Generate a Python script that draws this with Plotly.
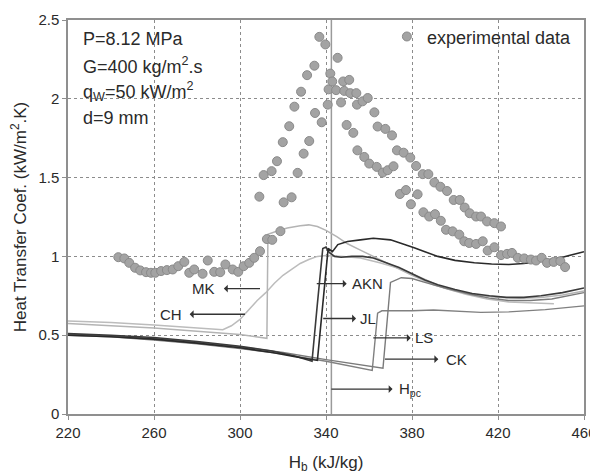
import plotly.graph_objects as go

# ---------------- data ----------------
exp_h = [243.4, 246.2, 248.5, 251.2, 253.6, 256.3, 258.6, 260.6, 263.3, 266.0, 268.7, 271.3, 274.1,
         276.4, 278.7, 282.6, 285.0, 288.0, 290.8, 293.2, 296.6, 299.2, 301.7, 304.3, 306.6, 309.3,
         312.5, 315.0, 318.8,
         309.0, 311.0, 314.7, 317.2, 319.9, 320.3, 322.9, 324.0, 325.3, 326.8, 328.4, 329.6, 331.2,
         332.2, 334.6, 334.9, 336.9, 338.0, 339.7, 340.8, 341.2, 342.0, 342.9, 344.7, 345.4, 347.0,
         348.0, 348.5, 349.6, 350.8, 351.3, 352.7, 354.1, 354.4, 354.6, 357.0, 357.8, 359.4, 360.1,
         362.5, 363.6, 364.0, 366.4, 367.6, 368.7, 370.7, 371.4, 373.0, 374.4, 376.1, 377.2, 379.2,
         379.5, 381.9, 382.6, 385.0, 385.3, 387.6, 388.0, 390.4, 390.7, 393.2, 393.4, 396.3,
         395.8, 398.9, 402.0, 404.3, 406.6, 409.8, 412.9, 415.2, 418.3, 421.4, 424.2, 426.5, 429.2,
         432.2, 435.3, 437.7, 440.3, 442.8, 445.9, 449.0, 451.2,
         399.4, 402.2, 404.5, 406.8, 409.8, 412.1, 414.9, 418.3, 421.4]
exp_htc = [0.995, 0.987, 0.959, 0.928, 0.911, 0.900, 0.896, 0.896, 0.907, 0.913, 0.917, 0.938, 0.965,
           0.896, 0.917, 0.890, 0.974, 0.902, 0.900, 0.949, 0.917, 0.902, 0.938, 0.959, 0.991, 1.033,
           1.110, 1.105, 1.160,
           1.379, 1.516, 1.541, 1.604, 1.725, 1.343, 1.826, 1.375, 1.950, 1.530, 2.045, 1.652, 2.150,
           1.732, 2.210, 1.910, 2.393, 1.851, 2.345, 1.963, 2.060, 2.160, 2.110, 2.055, 2.260, 1.977,
           2.110, 2.050, 1.834, 2.120, 2.036, 1.784, 2.036, 1.963, 1.673, 1.984, 1.631, 2.005, 1.589,
           1.914, 1.568, 1.824, 1.532, 1.809, 1.547, 1.768, 1.572, 1.673, 1.396, 1.658, 1.421, 1.627,
           1.331, 1.574, 1.394, 1.522, 1.280, 1.522, 1.253, 1.469, 1.268, 1.442, 1.226, 1.415,
           1.169, 1.159, 1.138, 1.096, 1.085, 1.079, 1.096, 1.037, 1.058, 1.008, 1.016, 1.022, 0.991,
           0.987, 0.980, 0.974, 0.991, 0.959, 0.965, 0.970, 0.932,
           1.358, 1.358, 1.310, 1.274, 1.253, 1.253, 1.222, 1.211, 1.190]

ch_h = [220, 240, 260, 280, 292, 296, 300, 304, 308, 312, 316, 320, 324, 328, 332, 336, 340, 348,
        356, 365, 375, 385, 395, 405, 415, 425, 435, 446]
ch_htc = [0.59, 0.58, 0.565, 0.548, 0.535, 0.56, 0.60, 0.66, 0.72, 0.77, 0.83, 0.88, 0.92, 0.955,
          0.98, 1.0, 1.005, 1.0, 0.99, 0.96, 0.92, 0.86, 0.80, 0.76, 0.73, 0.71, 0.705, 0.70]

mk_h = [220, 240, 260, 280, 300, 312.5, 313, 317, 322, 328, 332, 336, 340, 345, 350, 356, 362, 370,
        380, 390, 400, 410, 420, 430, 440, 450, 460]
mk_htc = [0.575, 0.56, 0.545, 0.525, 0.505, 0.48, 1.14, 1.16, 1.18, 1.195, 1.2, 1.19, 1.165, 1.125,
          1.08, 1.04, 1.0, 0.95, 0.88, 0.82, 0.78, 0.755, 0.74, 0.735, 0.74, 0.755, 0.78]

akn_h = [220, 240, 260, 280, 300, 315, 325, 333.5, 336, 338.5, 340, 341.5, 344, 347, 352, 357, 362,
         368, 374, 380, 386, 392, 400, 408, 416, 424, 432, 440, 450, 460]
akn_htc = [0.51, 0.50, 0.485, 0.46, 0.43, 0.40, 0.37, 0.335, 0.70, 1.05, 1.06, 1.025, 1.0, 0.995,
           1.0, 1.0, 0.99, 0.96, 0.93, 0.89, 0.85, 0.82, 0.79, 0.765, 0.75, 0.74, 0.74, 0.75, 0.77, 0.80]

jl_h = [220, 240, 260, 280, 300, 315, 325, 336, 341, 343, 345.5, 350, 356, 362, 370, 376, 381, 386,
        392, 400, 409, 417, 425, 432, 440, 450, 460]
jl_htc = [0.50, 0.49, 0.475, 0.45, 0.42, 0.39, 0.365, 0.34, 1.05, 1.03, 1.075, 1.095, 1.105, 1.115,
          1.105, 1.08, 1.055, 1.03, 1.0, 0.975, 0.96, 0.952, 0.949, 0.955, 0.97, 0.995, 1.03]

ls_h = [220, 240, 260, 280, 300, 320, 340, 350, 361.5, 364.0, 366.0, 372, 380, 390, 400, 412, 425,
        442, 460]
ls_htc = [0.50, 0.49, 0.47, 0.445, 0.415, 0.38, 0.335, 0.31, 0.277, 0.64, 0.655, 0.655, 0.655, 0.66,
          0.655, 0.645, 0.648, 0.662, 0.686]

ck_h = [220, 240, 260, 280, 300, 320, 340, 355, 366.5, 368.5, 370, 375, 380, 386, 395, 407, 416,
        425, 435, 445, 460]
ck_htc = [0.505, 0.495, 0.48, 0.455, 0.425, 0.39, 0.345, 0.315, 0.29, 0.60, 0.835, 0.865, 0.86,
          0.835, 0.80, 0.76, 0.735, 0.72, 0.72, 0.73, 0.77]

h_pc = 342.5
x_ticks = [220, 260, 300, 340, 380, 420, 460]
y_ticks = [0, 0.5, 1, 1.5, 2, 2.5]

# ---------------- figure ----------------
FONT = "Liberation Sans, Arial, sans-serif"
TXT = "#2a2a2a"
fig = go.Figure()

fig.add_trace(go.Scatter(x=[h_pc, h_pc], y=[y_ticks[0], y_ticks[-1]], mode="lines",
                         line=dict(color="#9a9a9a", width=1.5), showlegend=False, hoverinfo="skip"))

curves = [
    (ch_h, ch_htc, "#bcbcbc", 1.5),
    (mk_h, mk_htc, "#b4b4b4", 1.5),
    (ls_h, ls_htc, "#808080", 1.4),
    (ck_h, ck_htc, "#7a7a7a", 1.4),
    (akn_h, akn_htc, "#3a3a3a", 1.6),
    (jl_h, jl_htc, "#2a2a2a", 1.6),
]
for xs, ys, col, w in curves:
    fig.add_trace(go.Scatter(x=xs, y=ys, mode="lines", line=dict(color=col, width=w),
                             showlegend=False, hoverinfo="skip"))

fig.add_trace(go.Scatter(x=exp_h, y=exp_htc, mode="markers", name="experimental data",
                         marker=dict(size=9, color="#a3a3a3", line=dict(color="#8a8a8a", width=1))))

axis_common = dict(showgrid=True, gridcolor="#8c8c8c", gridwidth=1, griddash="dot",
                   showline=True, linecolor="#8f8f8f", linewidth=1.5, mirror=True,
                   ticks="outside", ticklen=4, tickcolor="#8f8f8f", zeroline=False,
                   automargin=False,
                   tickfont=dict(family=FONT, size=15, color=TXT))

# the page body adds an 8px offset, so the figure is 8px smaller and margins compensate
fig.update_layout(
    width=590, height=467,
    margin=dict(l=60, r=14, t=11, b=61),
    paper_bgcolor="white", plot_bgcolor="white",
    font=dict(family=FONT, color=TXT),
    xaxis=dict(range=[x_ticks[0], x_ticks[-1]], tickvals=x_ticks,
               title=dict(text="H<sub>b</sub> (kJ/kg)", font=dict(family=FONT, size=17, color=TXT),
                          standoff=16),
               **axis_common),
    yaxis=dict(range=[y_ticks[0], y_ticks[-1]], tickvals=y_ticks,
               title=dict(text="Heat Transfer Coef. (kW/m<sup>2</sup>.K)",
                          font=dict(family=FONT, size=17, color=TXT), standoff=8),
               **axis_common),
    legend=dict(x=0.618, y=0.955, xanchor="left", yanchor="middle", bgcolor="rgba(0,0,0,0)",
                font=dict(family=FONT, size=18, color=TXT), itemwidth=30),
    showlegend=True,
)

# top-left condition text
cond = [("P=8.12 MPa", 2.382), ("G=400 kg/m<sup>2</sup>.s", 2.209),
        ("q<sub>W</sub>=50 kW/m<sup>2</sup>", 2.046), ("d=9 mm", 1.880)]
for t, yy in cond:
    fig.add_annotation(x=226, y=yy, xref="x", yref="y", text=t, showarrow=False,
                       xanchor="left", yanchor="middle", font=dict(family=FONT, size=18, color=TXT))

# model labels: (text, label centre x, y, curve x where the arrow starts, gap px)
labels = [
    ("MK", 283.2, 0.796, 309.3, 7),
    ("CH", 268.0, 0.633, 302.3, 6),
    ("AKN", 359.4, 0.827, 335.7, 4),
    ("JL", 359.3, 0.606, 338.7, 2),
    ("LS", 385.7, 0.483, 362.0, 3),
    ("CK", 400.6, 0.348, 367.4, 6),
    ("H<sub>pc</sub>", 379.1, 0.158, h_pc, 5),
]
for t, lx, yy, cx, gap in labels:
    fig.add_annotation(x=cx, y=yy, ax=lx, ay=yy, xref="x", yref="y", axref="x", ayref="y",
                       text=t, showarrow=True, arrowside="start", arrowhead=2, arrowsize=1.1,
                       arrowwidth=1.3, arrowcolor="#333333", standoff=0, startstandoff=gap,
                       font=dict(family=FONT, size=15, color=TXT))

fig.write_html("out.html")
